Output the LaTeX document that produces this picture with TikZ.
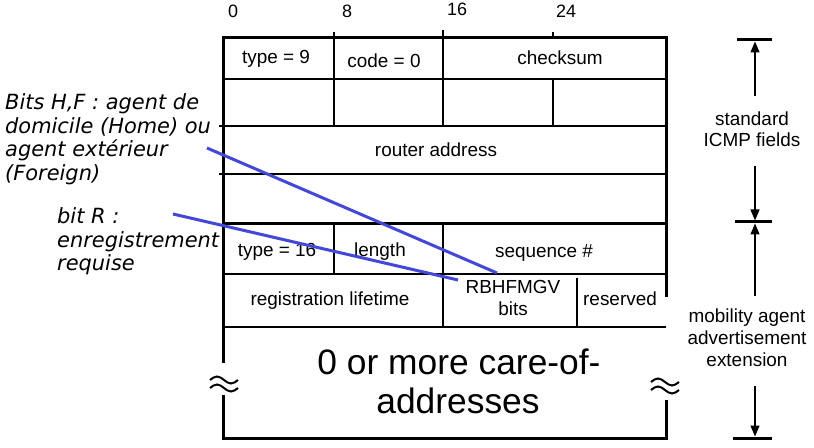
\documentclass[tikz,border=0pt]{standalone}
\usepackage{fontspec}
\setmainfont{Liberation Sans}
\newfontfamily\notefont{DejaVu Sans}
\usetikzlibrary{arrows.meta}
\definecolor{pointblue}{RGB}{68,72,214}
\begin{document}
\begin{tikzpicture}[x=1bp,y=-1bp,
  frame/.style={line width=3bp},
  rule/.style={line width=1.3bp},
  field/.style={font=\fontsize{19}{22}\selectfont, inner sep=0pt, anchor=base},
  bignum/.style={font=\fontsize{18}{22}\selectfont, inner sep=0pt, anchor=base},
  bigfield/.style={font=\fontsize{35.5}{40}\selectfont, inner sep=0pt, anchor=base},
  side/.style={font=\fontsize{19}{22}\selectfont, inner sep=0pt, anchor=base, align=center},
  note/.style={font=\notefont\itshape\fontsize{21}{24}\selectfont, inner sep=0pt, anchor=north west, align=left},
  pointer/.style={draw=pointblue, line width=3bp},
  dimarrow/.style={line width=1.3bp, -{Triangle[length=11bp,width=9bp]}},
  dimbar/.style={line width=3bp},
  approxline/.style={line width=2bp},
  wave/.pic={
    \draw[approxline] (-14,-4) sin (-7,-7.5) cos (0,-4) sin (7,-0.5) cos (14,-4);
    \draw[approxline] (-14,4) sin (-7,0.5) cos (0,4) sin (7,7.5) cos (14,4);
  }]
\useasboundingbox[fill=white] (0,0) rectangle (814,448);

% ---- frame and rules ----
\draw[frame] (223,363) -- (223,38) -- (666,38) -- (666,297);
\draw[frame] (223,395) -- (223,438) -- (666,438) -- (666,400);
\draw[frame] (223,224) -- (668,224);
\draw[rule] (223,79) -- (666,79);
\draw[rule] (219,126) -- (666,126);
\draw[rule] (219,174) -- (666,174);
\draw[rule] (223,274) -- (666,274);
\draw[rule] (223,327) -- (666,327);
\draw[rule] (334,32) -- (334,126);
\draw[rule] (443,30) -- (443,126);
\draw[rule] (553,32) -- (553,38);
\draw[rule] (553,79) -- (553,126);
\draw[rule] (334,224) -- (334,274);
\draw[rule] (443,224) -- (443,327);
\draw[rule] (577,278) -- (577,327);
\pic at (224,384) {wave};
\pic at (665,386) {wave};

% ---- bit positions ----
\node[bignum] (b0) at (233,18) {0};
\node[bignum] (b8) at (347,18) {8};
\node[bignum] (b16) at (457,16) {16};
\node[bignum] (b24) at (566,18) {24};

% ---- field labels ----
\node[field] (type9) at (276,64) {type = 9};
\node[field] (code0) at (384,68) {code = 0};
\node[field] (checksum) at (560,65) {checksum};
\node[field] (router) at (436,157) {router address};
\node[field] (type16) at (277,257) {type = 16};
\node[field] (length) at (380,257) {length};
\node[field] (seq) at (544,258) {sequence \#};
\node[field] (lifetime) at (330,306) {registration lifetime};
\node[field] (rbh) at (513,294) {RBHFMGV};
\node[field] (bits) at (513,316) {bits};
\node[field] (reserved) at (620,306) {reserved};
\node[bigfield] (care) at (459,375) {0 or more care-of-};
\node[bigfield] (addr) at (458,413) {addresses};

% ---- notes ----
\node[note] (hfnote) at (5,93) {Bits H,F : agent de\\domicile (Home) ou\\agent extérieur\\(Foreign)};
\node[note] (rnote) at (57,207) {bit R :\\enregistrement\\requise};
\coordinate (hfstart) at (207,148);
\coordinate (hfend) at (497,273);
\coordinate (rstart) at (173,214);
\coordinate (rend) at (458,280);
\draw[pointer] (hfstart) -- (hfend);
\draw[pointer] (rstart) -- (rend);

% ---- dimension marks ----
\coordinate (bartopL) at (737,40);  \coordinate (bartopR) at (772,40);
\coordinate (barmidL) at (735,222); \coordinate (barmidR) at (772,222);
\coordinate (barbotL) at (733,438); \coordinate (barbotR) at (772,438);
\draw[dimbar] (bartopL) -- (bartopR);
\draw[dimbar] (barmidL) -- (barmidR);
\draw[dimbar] (barbotL) -- (barbotR);
\node[side] (std1) at (752,126) {standard};
\node[side] (std2) at (752,147) {ICMP fields};
\node[side] (mob1) at (747,323) {mobility agent};
\node[side] (mob2) at (747,345) {advertisement};
\node[side] (mob3) at (747,367) {extension};
\coordinate (a1s) at (755,96);  \coordinate (a1e) at (755,41.5);
\coordinate (a2s) at (755,166); \coordinate (a2e) at (755,220.5);
\coordinate (a3s) at (755,296); \coordinate (a3e) at (755,223.5);
\coordinate (a4s) at (755,386); \coordinate (a4e) at (755,436.5);
\draw[dimarrow] (a1s) -- (a1e);
\draw[dimarrow] (a2s) -- (a2e);
\draw[dimarrow] (a3s) -- (a3e);
\draw[dimarrow] (a4s) -- (a4e);
\end{tikzpicture}
\end{document}
